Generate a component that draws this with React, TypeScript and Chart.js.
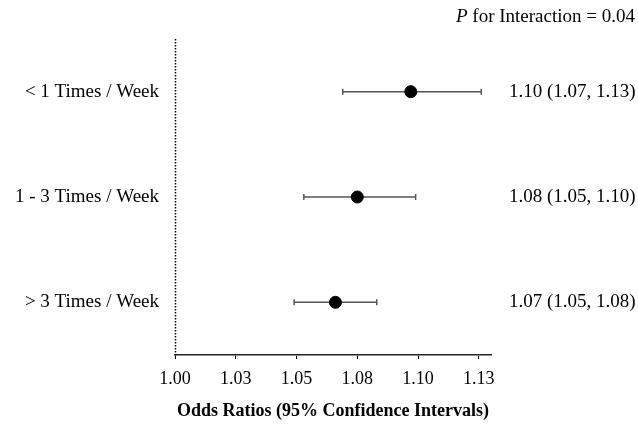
import React, { useEffect, useRef } from "react";
import { Chart, registerables } from "chart.js";

Chart.register(...registerables);

const categories = ["< 1 Times / Week", "1 - 3 Times / Week", "> 3 Times / Week"];
const oddsRatios = [1.097, 1.075, 1.066];
const lowerCI = [1.069, 1.053, 1.049];
const upperCI = [1.126, 1.099, 1.083];
const ciLabels = ["1.10 (1.07, 1.13)", "1.08 (1.05, 1.10)", "1.07 (1.05, 1.08)"];
const tickValues = [1.0, 1.025, 1.05, 1.075, 1.1, 1.125];
const tickLabels = ["1.00", "1.03", "1.05", "1.08", "1.10", "1.13"];
const referenceValue = 1.0;
const xTitle = "Odds Ratios (95% Confidence Intervals)";
const pLabel = "P";
const pText = " for Interaction = 0.04";

const SERIF = "'Liberation Serif', 'Times New Roman', serif";

export default function App() {
  const ref = useRef<HTMLCanvasElement | null>(null);

  useEffect(() => {
    document.body.style.margin = "0";
    const canvas = ref.current!;
    const forestPlugin = {
      id: "forest",
      beforeDatasetsDraw(chart: any) {
        const ctx = chart.ctx;
        const xs = chart.scales.x;
        const ys = chart.scales.y;
        const area = chart.chartArea;
        ctx.save();
        // dotted reference line
        const rx = Math.round(xs.getPixelForValue(referenceValue)) + 0.5;
        ctx.strokeStyle = "#000";
        ctx.lineWidth = 1.5;
        ctx.setLineDash([1.5, 1.5]);
        ctx.beginPath();
        ctx.moveTo(rx, area.top);
        ctx.lineTo(rx, area.bottom);
        ctx.stroke();
        ctx.setLineDash([]);
        for (let i = 0; i < categories.length; i++) {
          const y = ys.getPixelForValue(i);
          const x1 = xs.getPixelForValue(lowerCI[i]);
          const x2 = xs.getPixelForValue(upperCI[i]);
          ctx.strokeStyle = "#555";
          ctx.lineWidth = 1.5;
          ctx.beginPath();
          ctx.moveTo(x1, y);
          ctx.lineTo(x2, y);
          ctx.moveTo(x1, y - 3);
          ctx.lineTo(x1, y + 3);
          ctx.moveTo(x2, y - 3);
          ctx.lineTo(x2, y + 3);
          ctx.stroke();
        }
        ctx.restore();
      },
      afterDraw(chart: any) {
        const ctx = chart.ctx;
        const ys = chart.scales.y;
        const area = chart.chartArea;
        ctx.save();
        ctx.fillStyle = "#000";
        ctx.font = `19px ${SERIF}`;
        ctx.textAlign = "left";
        ctx.textBaseline = "middle";
        for (let i = 0; i < categories.length; i++) {
          ctx.fillText(ciLabels[i], area.right + 18, ys.getPixelForValue(i));
        }
        // P for interaction
        const rightEdge = 635;
        ctx.font = `19px ${SERIF}`;
        const wRest = ctx.measureText(pText).width;
        ctx.font = `italic 19px ${SERIF}`;
        const wP = ctx.measureText(pLabel).width;
        const startX = rightEdge - wRest - wP;
        ctx.fillText(pLabel, startX, 17);
        ctx.font = `19px ${SERIF}`;
        ctx.fillText(pText, startX + wP, 17);
        // x title
        ctx.font = `bold 18px ${SERIF}`;
        ctx.textAlign = "center";
        ctx.fillText(xTitle, (area.left + area.right) / 2, 411);
        ctx.restore();
      },
    };

    const chart = new Chart(canvas, {
      type: "scatter",
      data: {
        datasets: [
          {
            data: oddsRatios.map((v, i) => ({ x: v, y: categories[i] })) as any,
            backgroundColor: "#000",
            borderColor: "#000",
            pointRadius: 6,
            pointHoverRadius: 6,
          },
        ],
      },
      options: {
        responsive: false,
        animation: false,
        events: [],
        layout: { padding: { top: 39, right: 147, left: 0, bottom: 0 } },
        plugins: {
          legend: { display: false },
          tooltip: { enabled: false },
          title: { display: false },
        },
        scales: {
          x: {
            type: "linear",
            min: 1.0,
            max: 1.13,
            afterBuildTicks: (scale: any) => {
              scale.ticks = tickValues.map((v) => ({ value: v }));
            },
            afterFit: (scale: any) => {
              scale.height = 74;
            },
            ticks: {
              callback: (_v: any, i: number) => tickLabels[i],
              font: { family: SERIF, size: 18 },
              color: "#000",
              padding: 9,
              maxRotation: 0,
              autoSkip: false,
            },
            grid: {
              drawOnChartArea: false,
              drawTicks: true,
              tickLength: 4,
              color: "#000",
            },
            border: { display: true, color: "#222", width: 1.5 },
          },
          y: {
            type: "category",
            labels: categories,
            offset: true,
            afterFit: (scale: any) => {
              scale.width = 175;
            },
            ticks: {
              font: { family: SERIF, size: 19 },
              color: "#000",
              padding: 16,
            },
            grid: { display: false, drawTicks: false },
            border: { display: false },
          },
        },
      },
      plugins: [forestPlugin],
    });
    return () => chart.destroy();
  }, []);

  return <canvas ref={ref} width={638} height={429} style={{ display: "block" }} />;
}
